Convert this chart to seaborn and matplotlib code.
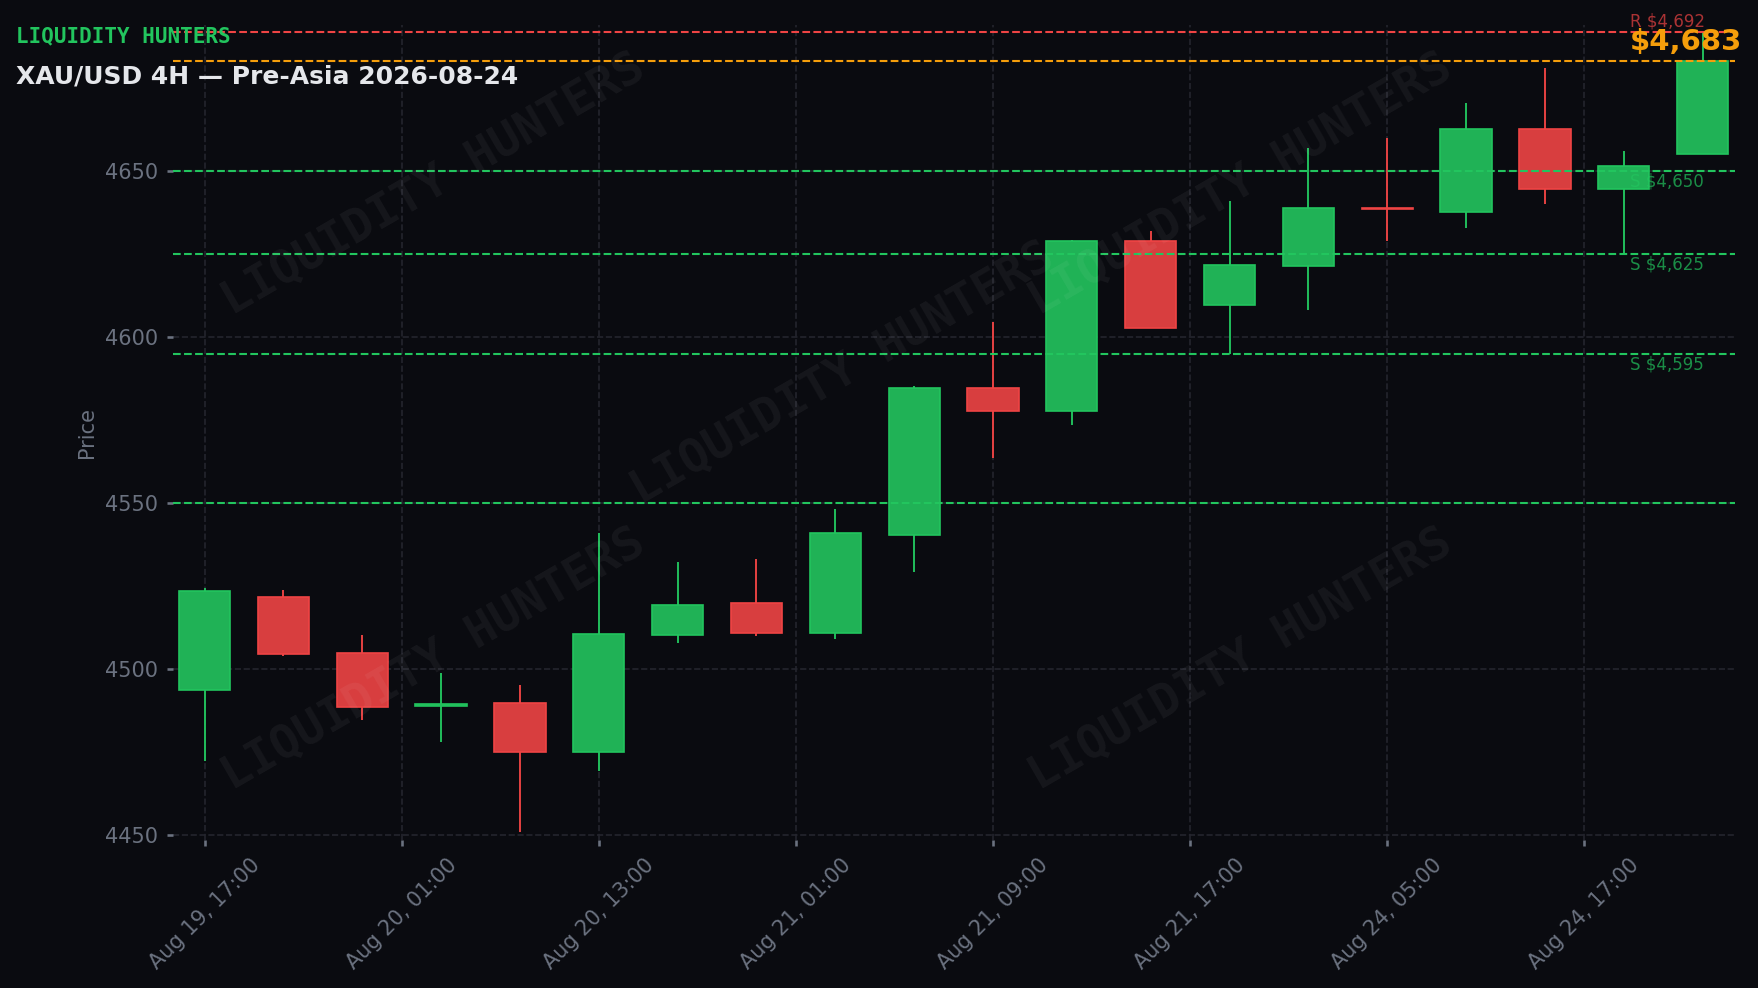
#--Import libraries--#
import numpy as np
import seaborn as sns
import matplotlib.pyplot as plt
from matplotlib.colors import to_rgb

#--Data--#
opens = [4493.5, 4521.5, 4504.9, 4488.9, 4489.6, 4474.8, 4510.2, 4519.7, 4510.7, 4540.4,
         4584.5, 4577.8, 4629.0, 4609.5, 4621.4, 4638.9, 4637.7, 4662.8, 4644.7, 4655.2]
closes = [4523.3, 4504.6, 4488.4, 4489.5, 4474.8, 4510.4, 4519.1, 4510.7, 4540.8, 4584.5,
          4577.8, 4629.0, 4602.7, 4621.8, 4639.0, 4638.4, 4662.8, 4644.7, 4651.4, 4683.0]
highs = [4524.2, 4523.7, 4510.2, 4498.7, 4495.1, 4540.8, 4532.1, 4533.0, 4548.1, 4585.2,
         4604.4, 4629.3, 4631.8, 4640.9, 4656.8, 4659.8, 4670.4, 4680.9, 4655.9, 4691.6]
lows = [4472.3, 4503.9, 4484.5, 4478.0, 4450.9, 4469.3, 4507.8, 4509.9, 4509.0, 4529.1,
        4563.6, 4573.4, 4602.7, 4595.0, 4608.0, 4628.8, 4632.9, 4640.1, 4625.1, 4655.2]
tick_labels = ['Aug 19, 17:00', 'Aug 20, 01:00', 'Aug 20, 13:00', 'Aug 21, 01:00',
               'Aug 21, 09:00', 'Aug 21, 17:00', 'Aug 24, 05:00', 'Aug 24, 17:00']
support_levels = [4650, 4625, 4595]
extra_levels = [4550]
resistance_levels = [4692]
last_price = 4683

#--Style--#
BG = '#0a0b10'
GREEN = '#22c55e'
RED = '#ef4444'
ORANGE = '#f59e0b'
MUTED = '#6b7280'
GRID = '#24252d'

def blend(col, a=0.9):
    # opaque mix of a colour over the background, so wicks don't show through
    fg, bg = np.array(to_rgb(col)), np.array(to_rgb(BG))
    return tuple(a * fg + (1 - a) * bg)

sns.set_theme(style='dark', rc={
    'figure.facecolor': BG, 'axes.facecolor': BG, 'savefig.facecolor': BG,
    'axes.edgecolor': BG, 'grid.color': GRID, 'grid.linestyle': '--', 'grid.linewidth': 0.8,
    'xtick.color': MUTED, 'ytick.color': MUTED, 'axes.labelcolor': MUTED,
    'xtick.bottom': True, 'ytick.left': True,
})
plt.rcParams['font.family'] = ['DejaVu Sans']

fig = plt.figure(figsize=(1758 / 150, 988 / 150), dpi=150)
ax = fig.add_axes([0.0984, 0.1498, 0.8885, 0.8249])

#--Candles--#
x = np.arange(len(opens))
o, c, h, l = map(np.array, (opens, closes, highs, lows))
up = c >= o
cols = [GREEN if u else RED for u in up]
ax.vlines(x, l, h, colors=cols, linewidth=0.9, zorder=2)
ax.bar(x, np.abs(c - o), bottom=np.minimum(o, c), width=0.65,
       color=[blend(col) for col in cols], edgecolor=cols, linewidth=0.8, zorder=3)

#--Levels--#
lab_x = len(opens) - 1.92
for lv in support_levels:
    ax.axhline(lv, color=GREEN, linestyle='--', linewidth=1.0, zorder=4)
    ax.text(lab_x, lv - 0.6, f'S ${lv:,}', color=GREEN, alpha=0.7, fontsize=8,
            ha='left', va='top', zorder=5)
for lv in extra_levels:
    ax.axhline(lv, color=GREEN, linestyle='--', linewidth=1.0, zorder=4)
for lv in resistance_levels:
    ax.axhline(lv, color=RED, linestyle='--', linewidth=1.0, zorder=4)
    ax.text(lab_x, lv + 0.2, f'R ${lv:,}', color=RED, alpha=0.7, fontsize=8,
            ha='left', va='bottom', zorder=5)
ax.axhline(last_price, color=ORANGE, linestyle='--', linewidth=1.0, zorder=4)
ax.text(lab_x, last_price + 3.6, f'${last_price:,}', color=ORANGE, fontsize=14,
        fontweight='bold', ha='left', va='baseline', zorder=6, clip_on=False)

#--Axes--#
ax.set_xlim(-0.40, len(opens) - 0.59)
ax.set_ylim(4448.4, 4694)
ax.set_xticks(np.arange(len(tick_labels)) * 2.5)
ax.set_xticklabels(tick_labels, rotation=45, fontsize=10)
ax.set_yticks(np.arange(4450, 4651, 50))
ax.tick_params(axis='y', labelsize=10, length=3, pad=4, color=MUTED)
ax.tick_params(axis='x', length=3, pad=4, color=MUTED)
ax.set_ylabel('Price', fontsize=10)
ax.grid(True, axis='both', zorder=0)
ax.set_axisbelow(True)
for s in ax.spines.values():
    s.set_visible(False)

#--Watermark--#
for wx, wy in [(0.2466, 0.8128), (0.7059, 0.8128), (0.4794, 0.622), (0.2466, 0.3327), (0.7059, 0.3327)]:
    fig.text(wx, wy, 'LIQUIDITY HUNTERS', family='DejaVu Sans Mono', fontweight='bold',
             fontsize=22.5, color='white', alpha=0.05, rotation=30, ha='center', va='center')

#--Header--#
fig.text(0.0089, 0.9568, 'LIQUIDITY HUNTERS', family='DejaVu Sans Mono', fontweight='bold',
         fontsize=10, color=GREEN, va='baseline')
fig.text(0.0089, 0.915, 'XAU/USD 4H \u2014 Pre-Asia 2026-08-24', fontweight='bold',
         fontsize=12, color='#e5e7eb', va='baseline')

fig.savefig('out.png', dpi=150)
